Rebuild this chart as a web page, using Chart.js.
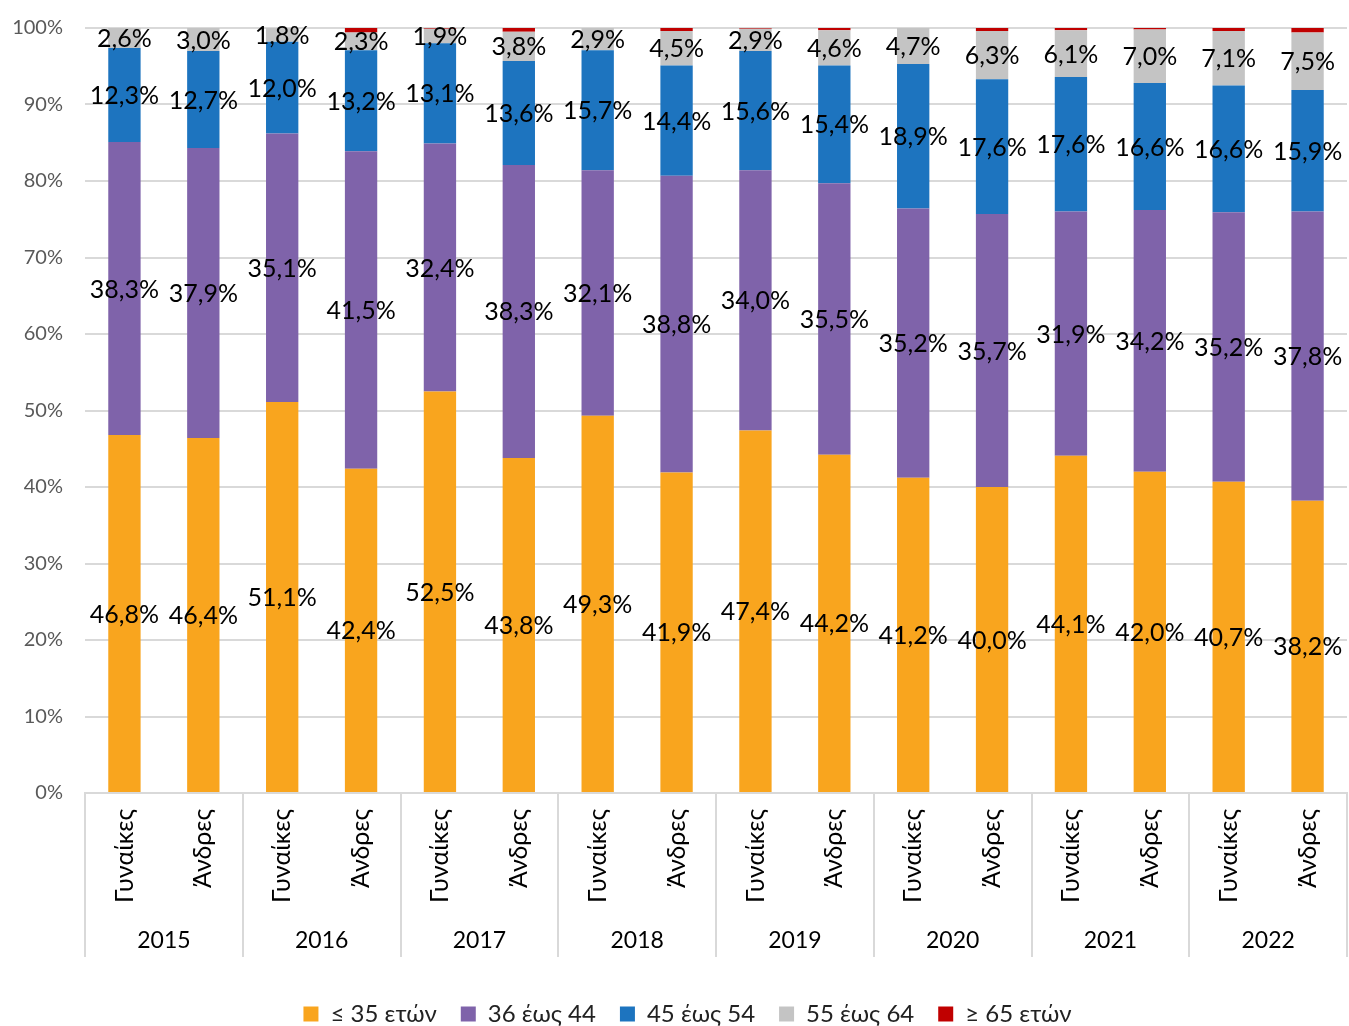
<!DOCTYPE html>
<html>
<head>
<meta charset="utf-8">
<script src="https://cdn.jsdelivr.net/npm/chart.js@4.4.0/dist/chart.umd.min.js"></script>
<style>
    body { margin: 0; background: #fff; }
    #wrap { width: 1349px; height: 1026px; position: relative; overflow: hidden; }
</style>
</head>
<body>
<div id="wrap"><canvas id="ageChart"></canvas></div>
<script>
const years = ['2015', '2016', '2017', '2018', '2019', '2020', '2021', '2022'];
const sexes = ['Γυναίκες', 'Άνδρες'];
const yTicks = [0, 10, 20, 30, 40, 50, 60, 70, 80, 90, 100];

// one value per bar: 2015 Γ, 2015 Α, 2016 Γ, ...
const under35 = [46.8, 46.4, 51.1, 42.4, 52.5, 43.8, 49.3, 41.9, 47.4, 44.2, 41.2, 40.0, 44.1, 42.0, 40.7, 38.2];
const age36to44 = [38.3, 37.9, 35.1, 41.5, 32.4, 38.3, 32.1, 38.8, 34.0, 35.5, 35.2, 35.7, 31.9, 34.2, 35.2, 37.8];
const age45to54 = [12.3, 12.7, 12.0, 13.2, 13.1, 13.6, 15.7, 14.4, 15.6, 15.4, 18.9, 17.6, 17.6, 16.6, 16.6, 15.9];
const age55to64 = [2.6, 3.0, 1.8, 2.3, 1.9, 3.8, 2.9, 4.5, 2.9, 4.6, 4.7, 6.3, 6.1, 7.0, 7.1, 7.5];
const over65 = [0.0, 0.0, 0.1, 0.6, 0.1, 0.5, 0.0, 0.4, 0.1, 0.3, 0.0, 0.4, 0.3, 0.2, 0.4, 0.6];

const seriesNames = ['≤ 35 ετών', '36 έως 44', '45 έως 54', '55 έως 64', '≥ 65 ετών'];
const seriesColors = ['#F9A51E', '#7F63AA', '#1D74BF', '#C4C4C4', '#C00000'];

const FONT = 'Lato, "Open Sans", sans-serif';

const barLabels = [];
years.forEach(y => sexes.forEach(s => barLabels.push(y + ' ' + s)));

function fmt(v) {
    return v.toFixed(1).replace('.', ',') + '%';
}

// Value labels in the middle of each segment (no label for the last series)
const valueLabels = {
    id: 'valueLabels',
    afterDatasetsDraw(chart) {
        const ctx = chart.ctx;
        ctx.save();
        ctx.font = '25px ' + FONT;
        ctx.fillStyle = '#000';
        ctx.textAlign = 'center';
        ctx.textBaseline = 'middle';
        chart.data.datasets.forEach((ds, di) => {
            if (di === 4) return;
            const meta = chart.getDatasetMeta(di);
            meta.data.forEach((bar, i) => {
                const mid = (bar.y + bar.base) / 2;
                ctx.fillText(fmt(ds.data[i]), bar.x, mid + 1);
            });
        });
        ctx.restore();
    }
};

// Two-level category axis: rotated sex labels, year labels, group separators
const groupAxis = {
    id: 'groupAxis',
    afterLayout(chart) {
        // original legend sits a little right of the canvas centre
        chart.legend.left += 28;
    },
    afterDraw(chart) {
        const ctx = chart.ctx;
        const xs = chart.scales.x;
        const bottom = chart.chartArea.bottom;
        const step = xs.getPixelForValue(1) - xs.getPixelForValue(0);
        ctx.save();

        ctx.strokeStyle = '#D9D9D9';
        ctx.lineWidth = 2;
        for (let g = 0; g <= years.length; g++) {
            const x = Math.round(xs.getPixelForValue(g * 2) - step / 2);
            ctx.beginPath();
            ctx.moveTo(x, bottom);
            ctx.lineTo(x, bottom + 164);
            ctx.stroke();
        }

        ctx.fillStyle = '#000';
        ctx.font = '25px ' + FONT;
        barLabels.forEach((lbl, i) => {
            const x = xs.getPixelForValue(i);
            ctx.save();
            ctx.translate(x, bottom + 16);
            ctx.rotate(-Math.PI / 2);
            ctx.textAlign = 'right';
            ctx.textBaseline = 'middle';
            ctx.fillText(sexes[i % 2], 0, 0);
            ctx.restore();
        });

        ctx.font = '23px ' + FONT;
        ctx.textAlign = 'center';
        ctx.textBaseline = 'middle';
        years.forEach((y, g) => {
            const x = (xs.getPixelForValue(g * 2) + xs.getPixelForValue(g * 2 + 1)) / 2;
            ctx.fillText(y, x, bottom + 148);
        });
        ctx.restore();
    }
};

const datasets = [under35, age36to44, age45to54, age55to64, over65].map((d, i) => ({
    label: seriesNames[i],
    data: d,
    backgroundColor: seriesColors[i],
    borderWidth: 0,
    barPercentage: 0.41,
    categoryPercentage: 1.0
}));

new Chart(document.getElementById('ageChart'), {
    type: 'bar',
    data: {
        labels: barLabels,
        datasets: datasets
    },
    options: {
        responsive: true,
        maintainAspectRatio: false,
        animation: false,
        layout: {
            padding: { top: 28, right: 2, left: 0, bottom: -10 }
        },
        plugins: {
            legend: {
                position: 'bottom',
                labels: {
                    font: { family: FONT, size: 24 },
                    color: '#222',
                    boxWidth: 15,
                    boxHeight: 15,
                    padding: 24
                }
            },
            tooltip: { enabled: false }
        },
        scales: {
            x: {
                stacked: true,
                grid: { display: false },
                border: { color: '#D9D9D9', width: 2 },
                ticks: { display: false },
                afterFit(scale) { scale.height = 185; }
            },
            y: {
                stacked: true,
                min: 0,
                max: 100,
                afterFit(scale) {
                    scale.width = 85;
                    scale.paddingTop = 0;
                },
                afterBuildTicks(scale) {
                    scale.ticks = yTicks.map(v => ({ value: v }));
                },
                ticks: {
                    font: { family: FONT, size: 20 },
                    color: '#595959',
                    padding: 22,
                    callback: v => v + '%'
                },
                grid: { color: '#D9D9D9', lineWidth: 2, drawTicks: false },
                border: { display: false }
            }
        }
    },
    plugins: [valueLabels, groupAxis]
});
</script>
</body>
</html>
